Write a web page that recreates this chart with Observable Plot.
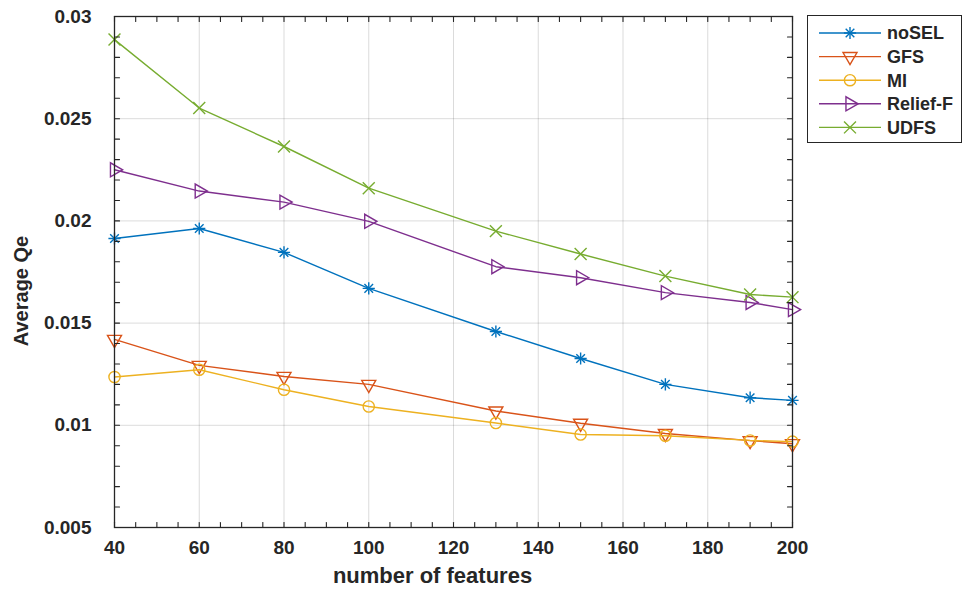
<!DOCTYPE html>
<html>
<head>
<meta charset="utf-8">
<script src="https://cdn.jsdelivr.net/npm/d3@7"></script>
<script src="https://cdn.jsdelivr.net/npm/@observablehq/plot@0.6"></script>
<style>
  html, body { margin: 0; padding: 0; background: #fff; }
  #wrap { position: relative; width: 965px; height: 590px; font-family: "Liberation Sans", Arial, sans-serif; }
  #legend { position: absolute; left: 807px; top: 15px; width: 155px; height: 128px; border: 1.2px solid #262626; background: #fff; box-sizing: border-box; }
</style>
</head>
<body>
<div id="wrap"><div id="legend"></div></div>
<script>
// ---- data ----
const features = [40, 60, 80, 100, 130, 150, 170, 190, 200];
const noSEL   = [0.01914, 0.01963, 0.01846, 0.0167, 0.01459, 0.01327, 0.0120, 0.01135, 0.01122];
const GFS     = [0.0142, 0.01293, 0.01239, 0.0120, 0.0107, 0.0101, 0.0096, 0.00925, 0.0091];
const MI      = [0.01236, 0.01272, 0.01174, 0.01092, 0.01011, 0.00955, 0.00949, 0.00926, 0.0092];
const reliefF = [0.0225, 0.02146, 0.02092, 0.01998, 0.01776, 0.01722, 0.01649, 0.01601, 0.01566];
const UDFS    = [0.02887, 0.02552, 0.02364, 0.0216, 0.0195, 0.01838, 0.0173, 0.0164, 0.01627];

const seriesNames = ["noSEL", "GFS", "MI", "Relief-F", "UDFS"];
const seriesValues = [noSEL, GFS, MI, reliefF, UDFS];
const seriesColors = ["#0072BD", "#D95319", "#EDB120", "#7E2F8E", "#77AC30"];

const xTicks = [40, 60, 80, 100, 120, 140, 160, 180, 200];
const yTicks = [0.005, 0.01, 0.015, 0.02, 0.025, 0.03];
const xTickLabels = ["40", "60", "80", "100", "120", "140", "160", "180", "200"];
const yTickLabels = ["0.005", "0.01", "0.015", "0.02", "0.025", "0.03"];
const xMinorTicks = d3.range(40, 201, 5);
const yMinorTicks = d3.range(5, 31).map(d => d / 1000);

const xLabel = "number of features";
const yLabel = "Average Qe";

// ---- marker styles ----
const markerStyles = {
  "noSEL":    [{symbol: "plus", r: 4.0, rotate: 0}, {symbol: "times", r: 4.0, rotate: 0}],
  "GFS":      [{symbol: "triangle", r: 5.2, rotate: 180}],
  "MI":       [{symbol: "circle", r: 5.6, rotate: 0}],
  "Relief-F": [{symbol: "triangle", r: 5.2, rotate: 90}],
  "UDFS":     [{symbol: "times", r: 5.5, rotate: 0}]
};

const rows = seriesNames.flatMap((name, i) =>
  features.map((f, j) => ({series: name, x: f, y: seriesValues[i][j]})));

const axisColor = "#262626";
const tickShape = {draw(context, l) { context.moveTo(0, 0); context.lineTo(0, -l); }};
const tickLen = 5;

const marks = [
  Plot.gridX(xTicks, {stroke: "#000", strokeOpacity: 0.14, strokeWidth: 1}),
  Plot.gridY(yTicks, {stroke: "#000", strokeOpacity: 0.14, strokeWidth: 1}),
];

seriesNames.forEach((name, i) => {
  const data = rows.filter(d => d.series === name);
  marks.push(Plot.line(data, {x: "x", y: "y", stroke: seriesColors[i], strokeWidth: 1.4}));
  for (const m of markerStyles[name]) {
    marks.push(Plot.dot(data, {x: "x", y: "y", symbol: m.symbol, r: m.r, rotate: m.rotate,
      stroke: seriesColors[i], fill: "none", strokeWidth: 1.4}));
  }
});

marks.push(
  Plot.frame({stroke: axisColor, strokeWidth: 1.3}),
  // inward ticks on all four sides
  Plot.vector(xMinorTicks, {x: d => d, frameAnchor: "bottom", anchor: "start", length: tickLen, rotate: 0, shape: tickShape, stroke: axisColor, strokeWidth: 1.1}),
  Plot.vector(xMinorTicks, {x: d => d, frameAnchor: "top", anchor: "start", length: tickLen, rotate: 180, shape: tickShape, stroke: axisColor, strokeWidth: 1.1}),
  Plot.vector(yMinorTicks, {y: d => d, frameAnchor: "left", anchor: "start", length: tickLen, rotate: 90, shape: tickShape, stroke: axisColor, strokeWidth: 1.1}),
  Plot.vector(yMinorTicks, {y: d => d, frameAnchor: "right", anchor: "start", length: tickLen, rotate: -90, shape: tickShape, stroke: axisColor, strokeWidth: 1.1}),
  Plot.axisX(xTicks, {tickSize: 0, tickPadding: 13, tickFormat: d => xTickLabels[xTicks.indexOf(d)], label: null,
    fontSize: 19, fontWeight: "bold", fill: axisColor}),
  Plot.axisY(yTicks, {tickSize: 0, tickPadding: 23, tickFormat: d => yTickLabels[yTicks.indexOf(d)], label: null,
    fontSize: 19, fontWeight: "bold", fill: axisColor}),
  Plot.text([xLabel], {text: d => d, frameAnchor: "bottom", textAnchor: "middle", lineAnchor: "middle", dx: -21, dy: 48, fontSize: 22, fontWeight: "bold", fill: axisColor}),
  Plot.text([yLabel], {text: d => d, frameAnchor: "left", textAnchor: "middle", lineAnchor: "middle", rotate: -90, dx: -93, dy: 19, fontSize: 20, fontWeight: "bold", fill: axisColor})
);

const chart = Plot.plot({
  width: 965,
  height: 590,
  marginLeft: 114,
  marginRight: 173,
  marginTop: 16,
  marginBottom: 63,
  x: {domain: [40, 200], label: null},
  y: {domain: [0.005, 0.03], label: null},
  style: {fontFamily: "Liberation Sans, Arial, sans-serif", background: "#fff", overflow: "visible"},
  marks
});
document.getElementById("wrap").prepend(chart);

// ---- legend ----
const lg = d3.select("#legend").append("svg").attr("width", 153).attr("height", 126).style("display", "block");
const symMap = {plus: d3.symbolPlus, times: d3.symbolTimes, triangle: d3.symbolTriangle, circle: d3.symbolCircle};
seriesNames.forEach((name, i) => {
  const cy = 17 + i * 23.6;
  const g = lg.append("g");
  g.append("line").attr("x1", 11).attr("x2", 73).attr("y1", cy).attr("y2", cy)
    .attr("stroke", seriesColors[i]).attr("stroke-width", 1.4);
  for (const m of markerStyles[name]) {
    g.append("path")
      .attr("d", d3.symbol(symMap[m.symbol], Math.PI * m.r * m.r)())
      .attr("transform", `translate(42,${cy}) rotate(${m.rotate})`)
      .attr("fill", "none").attr("stroke", seriesColors[i]).attr("stroke-width", 1.4);
  }
  g.append("text").attr("x", 79).attr("y", cy).attr("dy", "0.36em")
    .attr("font-size", 18).attr("font-weight", "bold").attr("fill", axisColor)
    .attr("font-family", "Liberation Sans, Arial, sans-serif").text(name);
});
</script>
</body>
</html>
